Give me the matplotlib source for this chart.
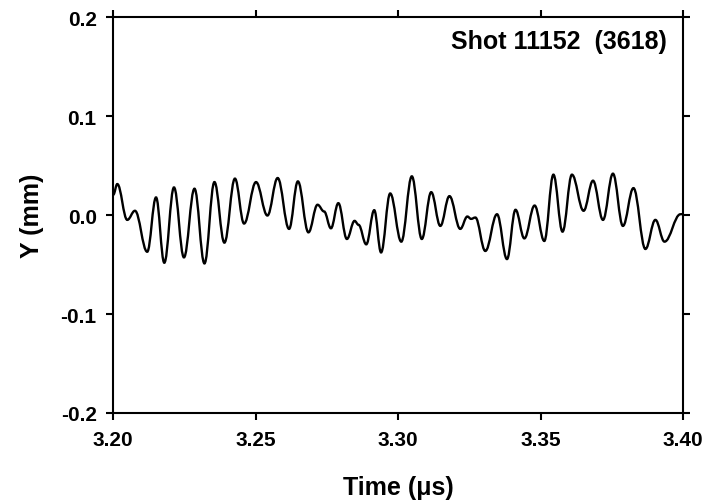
import matplotlib
matplotlib.use("Agg")
import matplotlib.pyplot as plt
from matplotlib.path import Path
from matplotlib.patches import PathPatch

plt.rcParams['font.family'] = ['Liberation Sans', 'DejaVu Sans']
plt.rcParams['font.weight'] = 'bold'

# Read-off extrema / key points of the trace (time in microseconds, Y in mm)
time_us = [3.2000, 3.2014, 3.2049, 3.2076, 3.2119, 3.2150, 3.2179, 3.2213, 3.2248, 3.2285,
           3.2320, 3.2355, 3.2390, 3.2427, 3.2459, 3.2501, 3.2541, 3.2577, 3.2617, 3.2648,
           3.2685, 3.2717, 3.2740, 3.2764, 3.2790, 3.2820, 3.2847, 3.2861, 3.2888, 3.2916,
           3.2940, 3.2972, 3.3011, 3.3048, 3.3083, 3.3116, 3.3148, 3.3180, 3.3218, 3.3243,
           3.3256, 3.3271, 3.3306, 3.3347, 3.3382, 3.3412, 3.3443, 3.3479, 3.3513, 3.3545,
           3.3577, 3.3610, 3.3651, 3.3684, 3.3719, 3.3754, 3.3789, 3.3826, 3.3868, 3.3903,
           3.3935, 3.3991, 3.4000]
y_mm = [0.0206, 0.0313, -0.0049, 0.0043, -0.0371, 0.0178, -0.0482, 0.0279, -0.0428, 0.0266,
        -0.0489, 0.0333, -0.0279, 0.0368, -0.0086, 0.0333, -0.0005, 0.0374, -0.0140, 0.0340,
        -0.0175, 0.0104, 0.0036, -0.0134, 0.0120, -0.0242, -0.0059, -0.0099, -0.0296, 0.0049,
        -0.0378, 0.0218, -0.0269, 0.0391, -0.0242, 0.0231, -0.0110, 0.0191, -0.0140, -0.0015,
        -0.0039, -0.0025, -0.0363, 0.0008, -0.0445, 0.0053, -0.0236, 0.0096, -0.0262, 0.0408,
        -0.0168, 0.0408, 0.0043, 0.0347, -0.0049, 0.0418, -0.0110, 0.0272, -0.0343, -0.0049,
        -0.0269, 0.0008, 0.0010]

x_ticks = [3.20, 3.25, 3.30, 3.35, 3.40]
x_ticklabels = ['3.20', '3.25', '3.30', '3.35', '3.40']
y_ticks = [-0.2, -0.1, 0.0, 0.1, 0.2]
y_ticklabels = ['-0.2', '-0.1', '0.0', '0.1', '0.2']

fig = plt.figure(figsize=(7.24, 5.02), dpi=100)
ax = fig.add_axes([0.1565, 0.1753, 0.9434 - 0.1565, 0.964 - 0.1753])

# smooth trace: cubic Bezier segments with horizontal tangents at each read point
verts = [(time_us[0], y_mm[0])]
codes = [Path.MOVETO]
for i in range(1, len(time_us)):
    x0, y0 = time_us[i - 1], y_mm[i - 1]
    x1, y1 = time_us[i], y_mm[i]
    dx = (x1 - x0) / 2.6
    verts += [(x0 + dx, y0), (x1 - dx, y1), (x1, y1)]
    codes += [Path.CURVE4, Path.CURVE4, Path.CURVE4]
patch = PathPatch(Path(verts, codes), facecolor='none', edgecolor='black', lw=1.7)
ax.add_patch(patch)

ax.set_xlim(3.20, 3.40)
ax.set_ylim(-0.2, 0.2)
ax.set_xticks(x_ticks)
ax.set_xticklabels(x_ticklabels)
ax.set_yticks(y_ticks)
ax.set_yticklabels(y_ticklabels)

for s in ax.spines.values():
    s.set_linewidth(1.5)
ax.tick_params(axis='both', which='major', direction='out', length=5, width=1.5,
               top=True, right=True, labeltop=False, labelright=False, labelsize=15)
ax.tick_params(axis='x', pad=7)
ax.tick_params(axis='y', pad=7)
for lab in ax.get_xticklabels() + ax.get_yticklabels():
    lab.set_fontweight('bold')

ax.set_xlabel('Time (\u03bcs)', fontsize=18, fontweight='bold', labelpad=19)
ax.set_ylabel('Y (mm)', fontsize=18, fontweight='bold', labelpad=12)

ax.text(0.972, 0.94, 'Shot 11152  (3618)', transform=ax.transAxes, ha='right', va='center',
        fontsize=18, fontweight='bold')

fig.savefig('out.png', dpi=100)
